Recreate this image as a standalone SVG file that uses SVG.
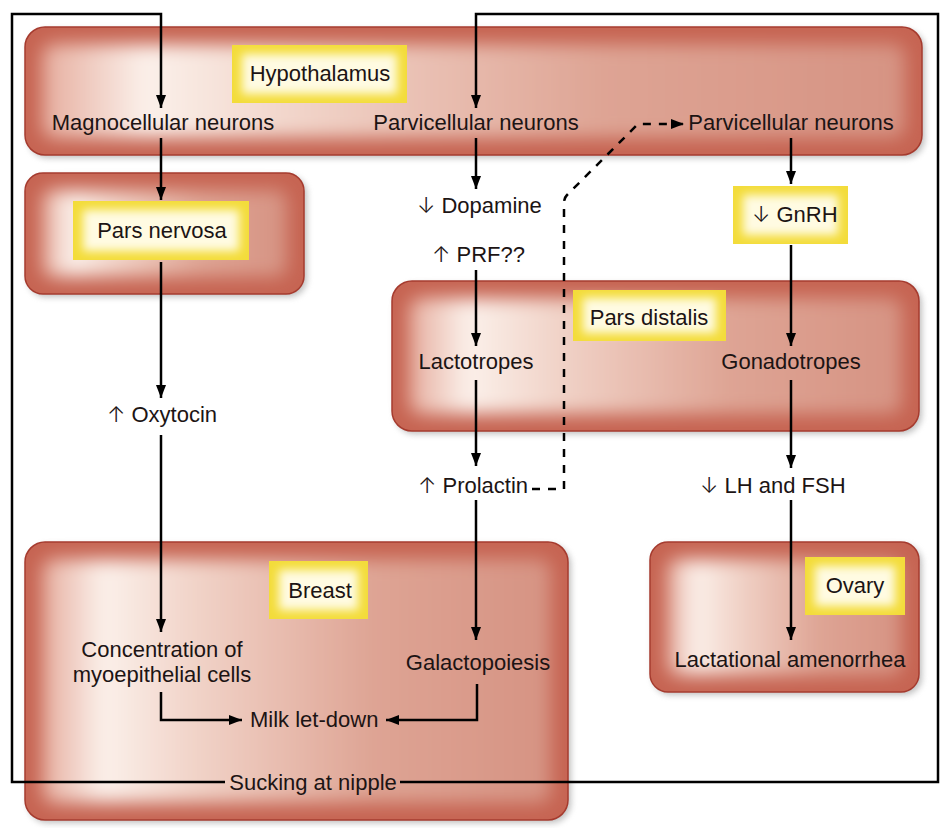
<svg xmlns="http://www.w3.org/2000/svg" width="946" height="828" viewBox="0 0 946 828">
<style>
text{font-family:"Liberation Sans",Arial,sans-serif;font-size:22px;fill:#1c1414}
.m{text-anchor:middle}
.ar{font-family:Inter,"DejaVu Sans",sans-serif;font-weight:300}
.box{fill:#c66452;stroke:#a53a2e;stroke-width:1.5}
.glow{fill:url(#redIn);filter:url(#b9)}
.shadow{fill:#8c8c8c;opacity:0.55;filter:url(#b3)}
.ybox{fill:#f3dc3a}
.yglow{fill:#fffbe2;filter:url(#b5)}
.ln{fill:none;stroke:#000;stroke-width:2.5}
.dash{fill:none;stroke:#000;stroke-width:2.5;stroke-dasharray:8 8}
</style>
<defs>
<filter id="b9" x="-20%" y="-40%" width="140%" height="180%"><feGaussianBlur stdDeviation="9"/></filter>
<filter id="b5" x="-30%" y="-50%" width="160%" height="200%"><feGaussianBlur stdDeviation="5"/></filter>
<filter id="b3" x="-10%" y="-10%" width="120%" height="120%"><feGaussianBlur stdDeviation="3"/></filter>
<linearGradient id="redIn" x1="0" y1="0" x2="1" y2="0">
<stop offset="0" stop-color="#e6ad9e"/>
<stop offset="0.12" stop-color="#fbf0ea"/>
<stop offset="0.3" stop-color="#f1d3c8"/>
<stop offset="0.65" stop-color="#dea494"/>
<stop offset="1" stop-color="#d69383"/>
</linearGradient>
<marker id="ah" markerUnits="userSpaceOnUse" markerWidth="14" markerHeight="12" refX="13" refY="6" orient="auto">
<path d="M0,1 L13,6 L0,11 Z" fill="#000"/>
</marker>
</defs>

<g id="hypothalamus">
<rect class="shadow" x="28" y="30" width="897" height="128" rx="20"/>
<rect class="box" x="25" y="27" width="897" height="128" rx="20"/>
<rect class="glow" x="42" y="44" width="863" height="94" rx="12"/>
<rect class="ybox" x="232" y="45" width="175" height="58"/>
<rect class="yglow" x="242" y="54" width="155" height="40"/>
<text class="m" x="320" y="81">Hypothalamus</text>
<text class="m" x="163" y="130">Magnocellular neurons</text>
<text class="m" x="476" y="130">Parvicellular neurons</text>
<text class="m" x="791" y="130">Parvicellular neurons</text>
</g>

<g id="pars-nervosa">
<rect class="shadow" x="28" y="176" width="279" height="121" rx="18"/>
<rect class="box" x="25" y="173" width="279" height="121" rx="18"/>
<rect class="glow" x="42" y="190" width="245" height="87" rx="10"/>
<rect class="ybox" x="73" y="201" width="176" height="59"/>
<rect class="yglow" x="83" y="210" width="156" height="41"/>
<text class="m" x="162" y="238">Pars nervosa</text>
</g>

<g id="pars-distalis">
<rect class="shadow" x="395" y="284" width="527" height="150" rx="20"/>
<rect class="box" x="392" y="281" width="527" height="150" rx="20"/>
<rect class="glow" x="409" y="298" width="493" height="116" rx="12"/>
<rect class="ybox" x="573" y="290" width="153" height="51"/>
<rect class="yglow" x="583" y="298" width="133" height="35"/>
<text class="m" x="649" y="325">Pars distalis</text>
<text class="m" x="476" y="369">Lactotropes</text>
<text class="m" x="791" y="369">Gonadotropes</text>
</g>

<g id="breast">
<rect class="shadow" x="28" y="545" width="543" height="278" rx="20"/>
<rect class="box" x="25" y="542" width="543" height="278" rx="20"/>
<rect class="glow" x="42" y="559" width="509" height="244" rx="12"/>
<rect class="ybox" x="269" y="561" width="99" height="58"/>
<rect class="yglow" x="279" y="570" width="79" height="40"/>
<text class="m" x="320" y="598">Breast</text>
<text class="m" x="162" y="657">Concentration of</text>
<text class="m" x="162" y="682">myoepithelial cells</text>
<text class="m" x="478" y="670">Galactopoiesis</text>
<text x="250" y="727">Milk let-down</text>
</g>

<g id="ovary">
<rect class="shadow" x="653" y="545" width="269" height="150" rx="18"/>
<rect class="box" x="650" y="542" width="269" height="150" rx="18"/>
<rect class="glow" x="667" y="559" width="235" height="116" rx="10"/>
<rect class="ybox" x="805" y="557" width="100" height="58"/>
<rect class="yglow" x="815" y="566" width="80" height="40"/>
<text class="m" x="855" y="593">Ovary</text>
<text class="m" x="790" y="667">Lactational amenorrhea</text>
</g>

<g id="gnrh">
<rect class="ybox" x="733" y="186" width="115" height="58"/>
<rect class="yglow" x="743" y="195" width="95" height="40"/>
<text x="752" y="222"><tspan class="ar">↓</tspan> GnRH</text>
</g>

<g id="dopamine"><text x="417" y="213"><tspan class="ar">↓</tspan> Dopamine</text></g>
<g id="prf"><text x="432" y="262"><tspan class="ar">↑</tspan> PRF??</text></g>
<g id="prolactin"><text x="418" y="493"><tspan class="ar">↑</tspan> Prolactin</text></g>
<g id="oxytocin"><text x="107" y="422"><tspan class="ar">↑</tspan> Oxytocin</text></g>
<g id="lh-fsh"><text x="700" y="493"><tspan class="ar">↓</tspan> LH and FSH</text></g>
<g id="sucking"><text class="m" x="313" y="790">Sucking at nipple</text></g>

<g id="connectors">
<path class="ln" d="M225,782 H12 V14 H161 V108" marker-end="url(#ah)"/>
<path class="ln" d="M400,782 H938 V14 H476 V108" marker-end="url(#ah)"/>
<path class="ln" d="M161,138 V200" marker-end="url(#ah)"/>
<path class="ln" d="M161,262 V398" marker-end="url(#ah)"/>
<path class="ln" d="M161,435 V632" marker-end="url(#ah)"/>
<path class="ln" d="M161,692 V720 H242" marker-end="url(#ah)"/>
<path class="ln" d="M477,684 V720 H386" marker-end="url(#ah)"/>
<path class="ln" d="M476,138 V189" marker-end="url(#ah)"/>
<path class="ln" d="M476,270 V346" marker-end="url(#ah)"/>
<path class="ln" d="M476,380 V466" marker-end="url(#ah)"/>
<path class="ln" d="M476,500 V640" marker-end="url(#ah)"/>
<path class="ln" d="M791,138 V184" marker-end="url(#ah)"/>
<path class="ln" d="M791,245 V346" marker-end="url(#ah)"/>
<path class="ln" d="M791,380 V468" marker-end="url(#ah)"/>
<path class="ln" d="M791,500 V640" marker-end="url(#ah)"/>
<path class="dash" d="M532,489 H564 V203 Q564,198 567,195 L638,124 H684" marker-end="url(#ah)"/>
</g>
</svg>
